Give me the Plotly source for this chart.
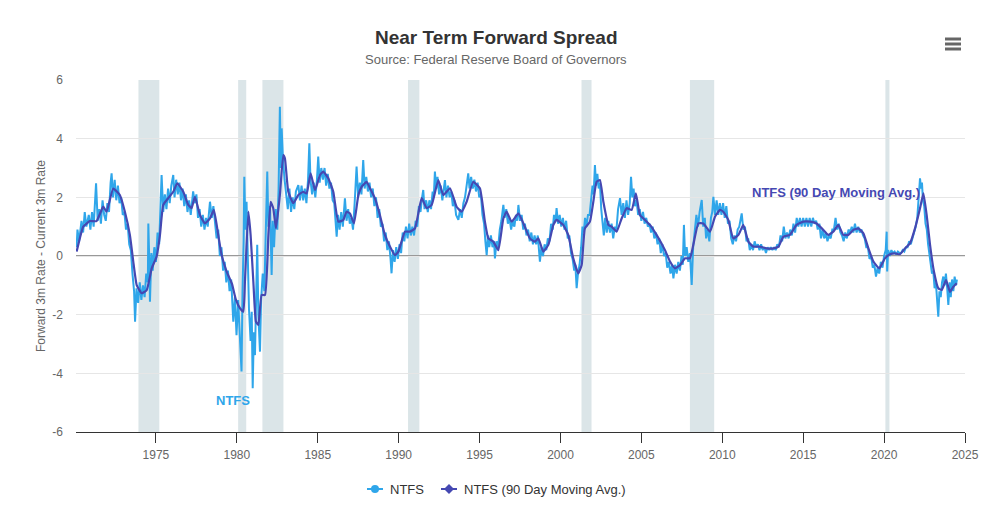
import plotly.graph_objects as go

# ---------------- data (decimal year, value) ----------------
ma_1970s = [(1970.10, 0.15), (1970.51, 1.00), (1970.92, 1.19), (1971.33, 1.19), (1971.74, 1.68),
            (1971.95, 1.51), (1972.36, 2.30), (1972.77, 2.08), (1973.08, 1.51), (1973.39, 0.72),
            (1973.60, -0.19), (1973.81, -0.99), (1974.12, -1.27), (1974.43, -1.16), (1974.74, -0.42),
            (1975.04, -0.02), (1975.25, 0.72), (1975.45, 1.74), (1975.76, 1.97), (1976.07, 2.19),
            (1976.32, 2.48), (1976.69, 2.19), (1977.00, 1.74), (1977.20, 1.63), (1977.41, 2.02),
            (1977.72, 1.40), (1978.03, 1.11), (1978.34, 1.28), (1978.58, 1.57), (1978.85, 0.72),
            (1979.06, 0.03), (1979.37, -0.53), (1979.70, -0.95), (1979.92, -1.45)]
ma_1980s = [(1980.19, -1.78), (1980.40, -1.90), (1980.50, -0.88), (1980.71, 1.51), (1980.85, 0.72),
            (1981.02, -0.88), (1981.18, -2.24), (1981.33, -2.35), (1981.53, -1.33), (1981.74, -1.33),
            (1981.95, 0.72), (1982.09, 1.85), (1982.25, 1.63), (1982.42, 0.94), (1982.66, 2.08),
            (1982.87, 3.44), (1982.97, 3.33), (1983.18, 2.19), (1983.49, 1.80), (1983.80, 2.08),
            (1984.10, 2.19), (1984.31, 2.13), (1984.56, 2.82), (1984.83, 2.25), (1985.14, 2.76),
            (1985.34, 2.88), (1985.65, 2.65), (1985.96, 2.19), (1986.27, 1.17), (1986.58, 1.23),
            (1986.78, 1.51), (1986.99, 1.45), (1987.24, 1.11), (1987.51, 2.08), (1987.71, 2.36),
            (1988.02, 2.53), (1988.23, 2.31), (1988.53, 1.97), (1988.84, 1.40), (1989.15, 0.72),
            (1989.46, 0.32), (1989.77, 0.03), (1989.98, 0.15)]
ma_1990s = [(1990.39, 0.83), (1990.70, 0.83), (1991.01, 0.94), (1991.42, 1.97), (1991.73, 1.63),
            (1992.04, 1.74), (1992.45, 2.59), (1992.76, 2.08), (1993.17, 2.31), (1993.58, 1.68),
            (1993.89, 1.51), (1994.20, 1.85), (1994.61, 2.53), (1995.02, 2.31), (1995.33, 1.17),
            (1995.54, 0.60), (1995.85, 0.49), (1996.16, 0.20), (1996.47, 1.28), (1996.67, 1.51),
            (1996.98, 1.17), (1997.40, 1.45), (1997.71, 1.11), (1998.11, 0.60), (1998.42, 0.49),
            (1998.63, 0.60), (1998.94, 0.15), (1999.25, 0.38), (1999.56, 1.06), (1999.76, 1.23)]
ma_2000s = [(2000.17, 1.06), (2000.48, 0.72), (2000.79, -0.08), (2001.10, -0.59), (2001.31, -0.31),
            (2001.51, 0.94), (2001.82, 1.17), (2002.03, 1.85), (2002.23, 2.53), (2002.44, 2.59),
            (2002.65, 1.85), (2002.96, 1.06), (2003.16, 1.00), (2003.47, 0.83), (2003.78, 1.28),
            (2004.09, 1.63), (2004.40, 1.57), (2004.66, 2.14), (2004.91, 1.40), (2005.22, 1.23),
            (2005.53, 1.06), (2005.94, 0.72), (2006.46, 0.20), (2006.77, -0.19), (2007.08, -0.42),
            (2007.39, -0.31), (2007.70, -0.08), (2008.00, -0.08), (2008.21, 0.38), (2008.52, 1.11),
            (2008.83, 1.11), (2009.24, 0.83), (2009.55, 1.34), (2009.86, 1.57)]
ma_2010s = [(2010.06, 1.51), (2010.37, 1.23), (2010.68, 0.60), (2011.00, 0.72), (2011.30, 1.06),
            (2011.61, 0.49), (2011.92, 0.32), (2012.33, 0.32), (2012.74, 0.26), (2013.16, 0.26),
            (2013.47, 0.32), (2013.78, 0.66), (2014.18, 0.72), (2014.59, 1.06), (2015.01, 1.17),
            (2015.42, 1.17), (2015.83, 1.11), (2016.24, 0.89), (2016.55, 0.72), (2016.86, 0.83),
            (2017.17, 1.06), (2017.48, 0.72), (2017.79, 0.72), (2018.10, 0.89), (2018.41, 0.94),
            (2018.72, 0.77), (2019.03, 0.26), (2019.34, -0.19), (2019.70, -0.42)]
ma_2020s = [(2020.05, -0.08), (2020.36, 0.06), (2020.67, 0.09), (2020.98, 0.06), (2021.29, 0.26),
            (2021.60, 0.43), (2021.91, 0.94), (2022.22, 1.63), (2022.43, 2.14), (2022.63, 1.40),
            (2022.84, 0.38), (2023.08, -0.53), (2023.35, -1.10), (2023.56, -1.16), (2023.83, -0.82),
            (2024.07, -1.22), (2024.28, -1.05), (2024.49, -0.93)]

ntfs_1970s = [(1970.10, 0.3), (1970.15, 0.9), (1970.25, 0.5), (1970.40, 1.2), (1970.50, 0.8), (1970.60, 1.5),
              (1970.70, 1.0), (1970.85, 1.4), (1970.95, 0.9), (1971.05, 1.5), (1971.15, 1.0), (1971.30, 2.48),
              (1971.40, 1.2), (1971.50, 1.6), (1971.60, 1.1), (1971.70, 1.9), (1971.80, 1.4), (1971.90, 1.2),
              (1972.00, 1.8), (1972.10, 1.5), (1972.20, 2.5), (1972.26, 2.82), (1972.35, 2.0), (1972.45, 2.6),
              (1972.55, 1.9), (1972.65, 2.4), (1972.75, 1.8), (1972.85, 2.0), (1972.95, 1.4), (1973.05, 1.5),
              (1973.15, 0.9), (1973.25, 1.1), (1973.35, 0.4), (1973.45, 0.2), (1973.55, -0.6), (1973.65, -1.2),
              (1973.71, -2.24), (1973.80, -1.1), (1973.90, -1.6), (1974.00, -0.9), (1974.10, -1.5), (1974.20, -1.0),
              (1974.30, -1.4), (1974.40, -0.6), (1974.50, -0.9), (1974.53, 1.11), (1974.60, -0.4), (1974.63, -1.56),
              (1974.72, 0.1), (1974.80, -0.5), (1974.90, 0.3), (1975.00, -0.2), (1975.10, 0.8), (1975.20, 0.4),
              (1975.30, 2.0), (1975.35, 2.76), (1975.45, 1.5), (1975.55, 2.1), (1975.65, 1.6), (1975.75, 2.3),
              (1975.85, 1.8), (1975.95, 2.4), (1976.07, 2.76), (1976.15, 2.0), (1976.25, 2.6), (1976.35, 2.1),
              (1976.45, 2.5), (1976.55, 1.9), (1976.65, 2.3), (1976.75, 1.7), (1976.85, 2.1), (1976.95, 1.5),
              (1977.05, 1.9), (1977.15, 1.4), (1977.30, 2.2), (1977.40, 1.8), (1977.50, 2.1), (1977.60, 1.3),
              (1977.70, 1.6), (1977.80, 1.0), (1977.90, 1.4), (1978.00, 0.9), (1978.10, 1.3), (1978.20, 1.0),
              (1978.34, 1.85), (1978.45, 1.3), (1978.55, 1.7), (1978.65, 1.0), (1978.75, 0.6), (1978.85, 0.9),
              (1978.95, 0.0), (1979.05, 0.3), (1979.15, -0.5), (1979.25, -0.2), (1979.35, -0.9), (1979.45, -0.5),
              (1979.55, -1.2), (1979.65, -0.8), (1979.78, -2.24), (1979.88, -1.4), (1979.98, -2.7)]
ntfs_1980s = [(1980.08, -1.5), (1980.18, -2.6), (1980.29, -3.94), (1980.35, -1.2), (1980.42, 0.5), (1980.46, 2.7),
              (1980.53, 0.9), (1980.60, 1.85), (1980.68, -0.5), (1980.75, -1.8), (1980.85, -2.9), (1980.92, -1.9),
              (1980.98, -4.51), (1981.05, -2.6), (1981.12, -3.38), (1981.20, -1.5), (1981.26, 0.38), (1981.33, -2.0),
              (1981.43, -3.26), (1981.50, -1.5), (1981.60, -0.6), (1981.70, -1.2), (1981.80, 0.8), (1981.88, 2.88),
              (1981.95, 1.0), (1982.05, 1.7), (1982.15, -0.65), (1982.22, 1.2), (1982.30, 0.3), (1982.40, 1.6),
              (1982.50, 0.9), (1982.58, 2.3), (1982.66, 5.09), (1982.72, 3.0), (1982.77, 4.35), (1982.85, 3.3),
              (1982.95, 2.6), (1983.05, 2.0), (1983.15, 1.6), (1983.25, 2.3), (1983.35, 1.5), (1983.45, 2.0),
              (1983.55, 1.6), (1983.65, 2.2), (1983.80, 2.42), (1983.90, 1.9), (1984.00, 2.4), (1984.10, 1.9),
              (1984.20, 2.3), (1984.30, 1.8), (1984.40, 2.6), (1984.48, 3.84), (1984.55, 2.6), (1984.65, 2.1),
              (1984.75, 2.5), (1984.85, 2.0), (1984.95, 2.6), (1985.03, 3.39), (1985.12, 2.5), (1985.22, 3.0),
              (1985.32, 2.6), (1985.42, 3.0), (1985.52, 2.4), (1985.62, 2.8), (1985.72, 2.3), (1985.82, 2.5),
              (1985.92, 1.9), (1986.02, 1.8), (1986.10, 1.2), (1986.17, 0.66), (1986.25, 1.4), (1986.35, 0.9),
              (1986.45, 1.5), (1986.55, 1.0), (1986.68, 1.97), (1986.78, 1.2), (1986.88, 1.6), (1986.98, 1.1),
              (1987.08, 1.3), (1987.18, 0.9), (1987.28, 1.8), (1987.40, 3.05), (1987.50, 2.0), (1987.60, 2.5),
              (1987.70, 2.1), (1987.81, 3.27), (1987.90, 2.3), (1988.00, 2.7), (1988.10, 2.2), (1988.20, 2.5),
              (1988.30, 2.0), (1988.40, 2.3), (1988.50, 1.7), (1988.60, 2.0), (1988.70, 1.3), (1988.80, 1.6),
              (1988.90, 1.0), (1989.00, 1.1), (1989.10, 0.5), (1989.20, 0.8), (1989.30, 0.2), (1989.40, 0.5),
              (1989.50, -0.1), (1989.56, -0.59), (1989.65, 0.2), (1989.75, -0.2), (1989.85, 0.3), (1989.95, -0.1)]
ntfs_1990s = [(1990.05, 0.4), (1990.15, 0.1), (1990.25, 0.8), (1990.35, 0.5), (1990.45, 1.0), (1990.55, 0.6),
              (1990.65, 1.1), (1990.75, 0.7), (1990.85, 1.0), (1990.95, 0.7), (1991.05, 1.2), (1991.15, 1.0),
              (1991.25, 1.7), (1991.35, 1.5), (1991.45, 2.0), (1991.52, 2.25), (1991.60, 1.6), (1991.70, 1.9),
              (1991.80, 1.5), (1991.90, 1.9), (1992.00, 1.6), (1992.10, 2.2), (1992.17, 2.0), (1992.24, 2.88),
              (1992.32, 2.3), (1992.40, 2.7), (1992.50, 2.1), (1992.60, 2.4), (1992.70, 1.9), (1992.78, 2.3),
              (1992.86, 2.59), (1992.95, 2.0), (1993.05, 2.4), (1993.15, 2.0), (1993.25, 2.2), (1993.35, 1.7),
              (1993.45, 1.9), (1993.55, 1.4), (1993.69, 1.23), (1993.80, 1.6), (1993.90, 1.3), (1994.00, 1.8),
              (1994.10, 2.0), (1994.20, 2.4), (1994.30, 2.82), (1994.38, 2.3), (1994.48, 2.7), (1994.58, 2.3),
              (1994.68, 2.6), (1994.78, 2.2), (1994.88, 2.5), (1994.98, 2.0), (1995.08, 2.1), (1995.18, 1.4),
              (1995.28, 1.1), (1995.36, 0.5), (1995.44, 0.03), (1995.52, 0.7), (1995.60, 0.3), (1995.70, 0.7),
              (1995.80, 0.3), (1995.90, 0.5), (1995.95, -0.08), (1996.05, 0.5), (1996.15, 0.3), (1996.25, 0.9),
              (1996.35, 1.2), (1996.47, 1.74), (1996.55, 1.3), (1996.65, 1.6), (1996.75, 1.1), (1996.85, 1.3),
              (1996.95, 0.9), (1997.05, 1.2), (1997.15, 1.0), (1997.25, 1.4), (1997.33, 1.2), (1997.40, 1.74),
              (1997.50, 1.2), (1997.60, 1.4), (1997.70, 0.9), (1997.80, 1.1), (1997.90, 0.7), (1998.00, 0.9),
              (1998.10, 0.5), (1998.20, 0.8), (1998.30, 0.4), (1998.40, 0.7), (1998.50, 0.4), (1998.60, 0.7),
              (1998.73, -0.19), (1998.82, 0.3), (1998.92, 0.0), (1999.02, 0.4), (1999.12, 0.2), (1999.22, 0.6),
              (1999.32, 0.5), (1999.42, 1.1), (1999.52, 0.9), (1999.60, 1.4), (1999.70, 1.2), (1999.76, 1.63),
              (1999.85, 1.1), (1999.95, 1.4)]
ntfs_2000s = [(2000.05, 1.0), (2000.15, 1.3), (2000.25, 0.9), (2000.35, 1.2), (2000.45, 0.6), (2000.55, 0.7),
              (2000.65, 0.1), (2000.75, -0.1), (2000.85, -0.5), (2000.92, -0.3), (2001.00, -1.1), (2001.08, -0.6),
              (2001.18, -0.3), (2001.28, 0.3), (2001.36, 1.0), (2001.44, 0.8), (2001.52, 1.3), (2001.60, 1.0),
              (2001.70, 1.4), (2001.80, 1.4), (2001.90, 2.0), (2001.98, 2.4), (2002.05, 2.1), (2002.13, 3.1),
              (2002.20, 2.4), (2002.28, 2.8), (2002.36, 2.3), (2002.44, 2.5), (2002.52, 1.6), (2002.60, 1.2),
              (2002.68, 0.7), (2002.76, 1.3), (2002.86, 0.8), (2002.96, 1.2), (2003.06, 0.8), (2003.16, 1.1),
              (2003.26, 0.6), (2003.36, 1.0), (2003.46, 0.9), (2003.56, 1.6), (2003.68, 1.97), (2003.78, 1.4),
              (2003.88, 1.8), (2003.98, 1.3), (2004.08, 1.9), (2004.18, 1.4), (2004.28, 1.8), (2004.36, 2.7),
              (2004.44, 2.0), (2004.52, 2.3), (2004.60, 1.7), (2004.70, 1.9), (2004.80, 1.4), (2004.90, 1.6),
              (2005.00, 1.2), (2005.10, 1.5), (2005.20, 1.1), (2005.30, 1.3), (2005.40, 1.0), (2005.50, 1.1),
              (2005.60, 0.8), (2005.70, 1.0), (2005.80, 0.6), (2005.90, 0.8), (2006.00, 0.4), (2006.10, 0.6),
              (2006.20, 0.1), (2006.30, 0.4), (2006.40, 0.0), (2006.50, 0.1), (2006.60, -0.4), (2006.70, -0.2),
              (2006.80, -0.6), (2006.90, -0.3), (2006.98, -0.76), (2007.08, -0.3), (2007.18, -0.6), (2007.28, -0.2),
              (2007.38, -0.5), (2007.48, 0.0), (2007.56, -0.3), (2007.63, 1.06), (2007.70, 0.0), (2007.80, 0.3),
              (2007.90, -0.2), (2008.00, 0.1), (2008.11, -0.99), (2008.20, 0.3), (2008.30, 0.8), (2008.40, 1.4),
              (2008.50, 1.0), (2008.60, 1.5), (2008.73, 1.91), (2008.82, 1.0), (2008.92, 1.3), (2009.00, 0.6),
              (2009.10, 0.9), (2009.20, 0.5), (2009.30, 1.3), (2009.38, 1.5), (2009.45, 2.02), (2009.55, 1.4),
              (2009.65, 1.9), (2009.75, 1.4), (2009.85, 1.8), (2009.95, 1.4)]
ntfs_2010s = [(2010.05, 1.8), (2010.15, 1.3), (2010.25, 1.7), (2010.35, 1.1), (2010.45, 1.2), (2010.55, 0.6),
              (2010.65, 0.4), (2010.75, 0.7), (2010.85, 0.5), (2010.95, 0.9), (2011.05, 1.0), (2011.20, 1.45),
              (2011.30, 0.9), (2011.40, 1.0), (2011.50, 0.5), (2011.60, 0.6), (2011.70, 0.2), (2011.80, 0.4),
              (2011.90, 0.2), (2012.00, 0.5), (2012.10, 0.3), (2012.20, 0.4), (2012.30, 0.2), (2012.40, 0.4),
              (2012.50, 0.2), (2012.60, 0.3), (2012.70, 0.1), (2012.80, 0.3), (2012.90, 0.2), (2013.00, 0.3),
              (2013.10, 0.2), (2013.20, 0.3), (2013.30, 0.2), (2013.40, 0.4), (2013.50, 0.3), (2013.60, 0.7),
              (2013.70, 0.5), (2013.80, 1.0), (2013.90, 0.6), (2014.00, 0.8), (2014.10, 0.6), (2014.20, 0.9),
              (2014.30, 0.7), (2014.40, 1.1), (2014.50, 0.8), (2014.60, 1.3), (2014.70, 1.0), (2014.80, 1.3),
              (2014.90, 1.0), (2015.00, 1.3), (2015.10, 1.0), (2015.20, 1.3), (2015.30, 1.0), (2015.40, 1.3),
              (2015.50, 1.0), (2015.60, 1.3), (2015.70, 1.1), (2015.80, 1.2), (2015.90, 0.9), (2016.00, 1.1),
              (2016.10, 0.6), (2016.20, 0.9), (2016.30, 0.6), (2016.40, 0.8), (2016.50, 0.5), (2016.60, 0.7),
              (2016.70, 0.6), (2016.80, 0.9), (2016.90, 0.9), (2017.00, 1.3), (2017.10, 0.9), (2017.20, 1.1),
              (2017.30, 0.8), (2017.40, 0.7), (2017.50, 0.5), (2017.60, 0.8), (2017.70, 0.6), (2017.80, 0.9),
              (2017.90, 0.8), (2018.00, 1.0), (2018.10, 0.8), (2018.20, 1.1), (2018.30, 0.8), (2018.40, 1.0),
              (2018.50, 0.8), (2018.60, 0.9), (2018.70, 0.7), (2018.80, 0.6), (2018.90, 0.3), (2019.00, 0.3),
              (2019.10, -0.1), (2019.20, 0.0), (2019.30, -0.4), (2019.40, -0.3), (2019.50, -0.7), (2019.60, -0.4),
              (2019.70, -0.6), (2019.80, -0.2), (2019.90, -0.4)]
ntfs_2020s = [(2020.00, 0.0), (2020.10, 0.2), (2020.16, 0.83), (2020.19, -0.53), (2020.25, 0.2), (2020.35, 0.0),
              (2020.45, 0.2), (2020.55, 0.1), (2020.65, 0.15), (2020.75, 0.05), (2020.85, 0.15), (2020.95, 0.1),
              (2021.05, 0.1), (2021.15, 0.2), (2021.25, 0.15), (2021.35, 0.3), (2021.45, 0.3), (2021.55, 0.5),
              (2021.65, 0.4), (2021.75, 0.6), (2021.85, 0.8), (2021.95, 1.0), (2022.05, 1.3), (2022.12, 1.8),
              (2022.18, 2.2), (2022.22, 2.65), (2022.28, 2.3), (2022.34, 2.5), (2022.40, 1.9), (2022.48, 1.7),
              (2022.56, 1.1), (2022.64, 0.9), (2022.72, 0.4), (2022.80, 0.1), (2022.88, -0.3), (2022.96, -0.6),
              (2023.04, -0.5), (2023.12, -1.1), (2023.20, -0.9), (2023.28, -1.5), (2023.35, -2.07), (2023.42, -1.2),
              (2023.50, -1.4), (2023.58, -0.9), (2023.66, -0.7), (2023.74, -1.0), (2023.82, -0.6), (2023.90, -1.1),
              (2023.97, -1.67), (2024.05, -0.9), (2024.12, -1.4), (2024.20, -0.8), (2024.28, -1.2), (2024.36, -0.7),
              (2024.44, -1.0), (2024.50, -0.8)]

recession_starts = [1973.92, 1980.08, 1981.58, 1990.58, 2001.30, 2008.00, 2020.08]
recession_ends = [1975.21, 1980.58, 1982.88, 1991.28, 2001.92, 2009.50, 2020.33]

x_ticks = [1975, 1980, 1985, 1990, 1995, 2000, 2005, 2010, 2015, 2020, 2025]
y_ticks = [-6, -4, -2, 0, 2, 4, 6]
y_tick_labels = ["-6", "-4", "-2", "0", "2", "4", "6"]

ma_pts = ma_1970s + ma_1980s + ma_1990s + ma_2000s + ma_2010s + ma_2020s
ntfs_pts = ntfs_1970s + ntfs_1980s + ntfs_1990s + ntfs_2000s + ntfs_2010s + ntfs_2020s

NTFS_COLOR = "#2fa6ea"
MA_COLOR = "#4548b2"
FONT = "Liberation Sans, Arial, sans-serif"

# page has an 8px body margin; figure is sized so that plot area lands where the reference has it
W, H = 993, 497
ML, MR, MT, MB = 68, 36, 72, 73
PW, PH = W - ML - MR, H - MT - MB   # 889 x 352


def px(sx):  # screen x -> paper x
    return (sx - 8 - ML) / PW


def py(sy):  # screen y -> paper y
    return (H - MB - (sy - 8)) / PH


fig = go.Figure()

fig.add_trace(go.Scatter(
    x=[p[0] for p in ntfs_pts], y=[p[1] for p in ntfs_pts], mode="lines",
    line=dict(color=NTFS_COLOR, width=2), name="NTFS", showlegend=False))
fig.add_trace(go.Scatter(
    x=[p[0] for p in ma_pts], y=[p[1] for p in ma_pts], mode="lines",
    line=dict(color=MA_COLOR, width=2.2, shape="spline", smoothing=0.4),
    name="NTFS (90 Day Moving Avg.)", showlegend=False))

shapes = []
for s, e in zip(recession_starts, recession_ends):
    shapes.append(dict(type="rect", xref="x", yref="paper", x0=s, x1=e, y0=0, y1=1,
                       fillcolor="#dbe5e8", line=dict(width=0), layer="below"))
# zero line
shapes.append(dict(type="line", xref="paper", yref="y", x0=0, x1=1, y0=0, y1=0,
                   line=dict(color="#999999", width=2), layer="below"))
# menu icon
for sy in [39, 44, 49]:
    shapes.append(dict(type="line", xref="paper", yref="paper", x0=px(945), x1=px(961), y0=py(sy), y1=py(sy),
                       line=dict(color="#666666", width=3)))

# manual legend
LY = 489
shapes.append(dict(type="line", xref="paper", yref="paper", x0=px(367), x1=px(383), y0=py(LY), y1=py(LY),
                   line=dict(color=NTFS_COLOR, width=2)))
shapes.append(dict(type="circle", xref="paper", yref="paper", x0=px(371), x1=px(379), y0=py(LY + 4), y1=py(LY - 4),
                   fillcolor=NTFS_COLOR, line=dict(width=0)))
shapes.append(dict(type="line", xref="paper", yref="paper", x0=px(441), x1=px(457), y0=py(LY), y1=py(LY),
                   line=dict(color=MA_COLOR, width=2)))
shapes.append(dict(type="path", xref="paper", yref="paper",
                   path=f"M {px(449)} {py(LY - 5)} L {px(454)} {py(LY)} L {px(449)} {py(LY + 5)} L {px(444)} {py(LY)} Z",
                   fillcolor=MA_COLOR, line=dict(width=0)))

fig.update_layout(
    width=W, height=H,
    margin=dict(l=ML, r=MR, t=MT, b=MB, autoexpand=False),
    paper_bgcolor="white", plot_bgcolor="white",
    font=dict(family=FONT, color="#666666", size=12),
    shapes=shapes,
    showlegend=False,
    annotations=[
        dict(text="<b>Near Term Forward Spread</b>", x=px(496), y=py(37), xref="paper", yref="paper",
             yanchor="middle", showarrow=False, font=dict(size=19, color="#333333", family=FONT)),
        dict(text="Source: Federal Reserve Board of Governors", x=px(496), y=py(59), xref="paper", yref="paper",
             yanchor="middle", showarrow=False, font=dict(size=13, color="#666666", family=FONT)),
        dict(text="<b>NTFS</b>", x=1979.76, y=-4.91, xref="x", yref="y", showarrow=False,
             font=dict(size=13, color=NTFS_COLOR, family=FONT)),
        dict(text="<b>NTFS (90 Day Moving Avg.)</b>", x=2017.03, y=2.15, xref="x", yref="y", showarrow=False,
             font=dict(size=13, color=MA_COLOR, family=FONT)),
        dict(text="NTFS", x=px(388), y=py(LY), xref="paper", yref="paper", xanchor="left", yanchor="middle",
             showarrow=False, font=dict(size=13, color="#333333", family=FONT)),
        dict(text="NTFS (90 Day Moving Avg.)", x=px(462), y=py(LY), xref="paper", yref="paper",
             xanchor="left", yanchor="middle", showarrow=False,
             font=dict(size=13, color="#333333", family=FONT)),
    ],
    xaxis=dict(range=[1970.06, 2025.0], tickvals=x_ticks, ticktext=[str(t) for t in x_ticks],
               showgrid=False, zeroline=False, showline=True, linecolor="#333333", linewidth=1,
               ticks="outside", ticklen=10, tickcolor="#333333", ticklabelstandoff=2,
               tickfont=dict(size=12, color="#666666", family=FONT)),
    yaxis=dict(range=[-6, 6], tickvals=y_ticks, ticktext=y_tick_labels,
               showgrid=True, gridcolor="#e6e6e6", gridwidth=1,
               zeroline=False, showline=False, ticks="", ticklabelstandoff=12,
               title=dict(text="Forward 3m Rate - Current 3m Rate", font=dict(size=12, color="#666666"),
                          standoff=4),
               tickfont=dict(size=12, color="#666666", family=FONT)),
)

fig.write_html("out.html")
